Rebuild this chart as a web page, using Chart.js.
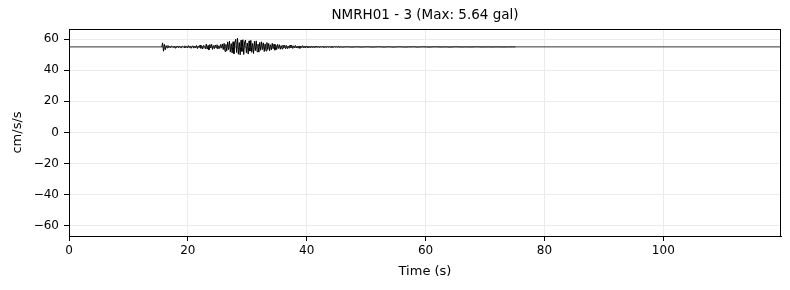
<!DOCTYPE html>
<html>
<head>
<meta charset="utf-8">
<script src="https://cdn.jsdelivr.net/npm/chart.js@4.4.1/dist/chart.umd.min.js"></script>
<style>
  html, body { margin: 0; padding: 0; background: #fff; }
  #wrap { width: 790px; height: 290px; }
</style>
</head>
<body>
<div id="wrap"><canvas id="wave"></canvas></div>
<script>
// station / record info
const chartTitle = 'NMRH01 - 3 (Max: 5.64 gal)';
const traceOffset = 55;        // trace drawn shifted to this level
const xTicks = [0, 20, 40, 60, 80, 100];
const yTicks = [-60, -40, -20, 0, 20, 40, 60];

// strong-motion part, acceleration in gal, one sample every 0.15 s from 15.6 s
const mainStart = 15.6;
const mainStep = 0.15;
const mainAcc = [
    0, 2.6, -2.8, 1.6, -1.9, 0.8, -0.6, 0.9, -0.4, 0.3,
    -0.5, 0.6, 0.2, -0.4, 0.5, -0.7, 0.3, -0.2, 0.6, -0.5,
    0.4, -0.3, -0.6, 0.5, 0.2, -0.4, 0.7, -0.5, 0.3, -0.6,
    0.8, -0.4, 0.6, -0.9, 0.3, 0.7, -0.8, 0.5, -0.6, 0.9,
    -1.1, 0.6, -0.4, 1.2, -0.9, 0.5, -1.3, 1.0, 0.4, -1.2,
    1.8, -1.4, 0.9, -1.9, 1.5, -0.7, 1.7, -1.6, 0.8, -1.1,
    1.2, -0.6, 1.4, -1.3, 0.7, -1.0, 1.5, -0.8, 1.9, -1.7,
    2.3, -2.9, 1.6, -2.5, 3.2, -1.8, 3.7, -3.3, 2.1, -3.9,
    3.3, -4.4, 2.6, 4.9, -3.6, 5.64, -4.7, 2.8, -5.1, 4.3,
    -2.9, 4.6, -4.9, 3.1, 4.4, -3.8, 2.5, -4.6, 3.9, -2.7,
    4.2, -3.5, 2.2, -4.3, 3.6, -2.4, 3.9, -3.1, 1.8, -3.4,
    2.9, -2.2, 3.3, -1.7, 2.6, -3.0, 1.9, -2.6, 2.8, -1.6,
    2.2, -2.5, 1.4, -1.9, 2.3, -1.2, 1.8, -2.1, 1.1, -1.7,
    1.6, -1.0, 1.4, -1.5, 0.8, -1.3, 1.2, -0.7, 1.1, -1.2,
    0.9, -1.1, 0.6, -0.9, 1.2, -0.5, 0.8, -1.0, 0.7, -0.6,
    0.9, -0.7, 0.4, -0.8, 0.6, -0.9, 0.5, -0.4, 0.8, -0.6,
    0.5, -0.7, 0.6, -0.3, 0.5, -0.6, 0.2, -0.5, 0.6, -0.4,
    0.3, -0.5, 0.4, -0.2, 0.5, -0.3, 0.4, -0.4, 0.2, -0.3,
    0.4, -0.2, 0.3, -0.4, 0.2, -0.3, 0.3, -0.2, 0.3, -0.3,
    0.2, -0.3, 0.2, -0.2, 0.3, -0.1, 0.2, -0.3, 0.2, -0.2
];

// coda, one sample every 0.5 s from 45.6 s
const codaStart = 45.6;
const codaStep = 0.5;
const codaAcc = [
    0, -0.2, 0.1, 0, -0.2, 0, 0.1, -0.2, 0, 0.1,
    0, -0.2, 0, 0.1, 0, -0.2, 0.1, 0, -0.2, 0,
    0.1, 0, -0.2, 0, 0, 0.1, -0.2, 0, 0.1, 0,
    -0.2, 0, 0.1, 0, -0.1, 0, 0, -0.2, 0, 0.1,
    0, -0.1, 0, 0, -0.1, 0, 0.1, 0, -0.1, 0,
    0, -0.1, 0, 0, 0, -0.1, 0, 0, 0, 0
];

const xMin = 0, xMax = 119.8;
const yMin = -66.5, yMax = 66.5;

const trace = [];
mainAcc.forEach((a, i) => trace.push({ x: mainStart + i * mainStep, y: traceOffset + a }));
codaAcc.forEach((a, i) => trace.push({ x: codaStart + i * codaStep, y: traceOffset + a }));

const family = '"DejaVu Sans", sans-serif';
const tickFont = { family, size: 12 };
const labelFont = { family, size: 13 };
const minus = v => String(v).replace('-', '\u2212');

// matplotlib-like frame + title centred over the axes
const frame = {
    id: 'frame',
    afterDraw(chart) {
        const { ctx, chartArea: a } = chart;
        ctx.save();
        ctx.strokeStyle = '#000';
        ctx.lineWidth = 1;
        ctx.strokeRect(a.left + 0.5, a.top + 0.5, a.right - a.left - 1, a.bottom - a.top);
        ctx.fillStyle = '#000';
        ctx.font = '13.5px ' + family;
        ctx.textAlign = 'center';
        ctx.textBaseline = 'middle';
        ctx.fillText(chartTitle, (a.left + a.right) / 2, 15);
        ctx.restore();
    }
};

new Chart(document.getElementById('wave'), {
    type: 'line',
    data: {
        datasets: [
            {
                data: [{ x: xMin, y: traceOffset }, { x: xMax, y: traceOffset }],
                borderColor: '#333',
                borderWidth: 1,
                pointRadius: 0
            },
            {
                data: trace,
                borderColor: '#000',
                borderWidth: 1,
                pointRadius: 0,
                tension: 0,
                segment: {
                    borderColor: c => c.p0.parsed.x >= codaStart ? '#333' : undefined
                }
            }
        ]
    },
    options: {
        responsive: true,
        maintainAspectRatio: false,
        animation: false,
        layout: { padding: { top: 29, right: 9, left: 0, bottom: 0 } },
        plugins: { legend: { display: false }, tooltip: { enabled: false } },
        scales: {
            x: {
                type: 'linear',
                min: xMin,
                max: xMax,
                afterBuildTicks: s => { s.ticks = xTicks.map(v => ({ value: v })); },
                afterFit: s => { s.height = 54; },
                grid: { color: '#ebebeb', tickColor: '#000', tickLength: 5 },
                border: { color: '#000' },
                ticks: { color: '#000', font: tickFont, padding: 3, maxRotation: 0, callback: minus },
                title: { display: true, text: 'Time (s)', color: '#000', font: labelFont, padding: { top: 0, bottom: 11 } }
            },
            y: {
                min: yMin,
                max: yMax,
                afterBuildTicks: s => { s.ticks = yTicks.map(v => ({ value: v })); },
                afterFit: s => { s.width = 69; },
                grid: { color: '#ebebeb', tickColor: '#000', tickLength: 5 },
                border: { color: '#000' },
                ticks: { color: '#000', font: tickFont, padding: 5, callback: minus },
                title: { display: true, text: 'cm/s/s', color: '#000', font: labelFont, padding: { top: 10, bottom: 0 } }
            }
        }
    },
    plugins: [frame]
});
</script>
</body>
</html>
